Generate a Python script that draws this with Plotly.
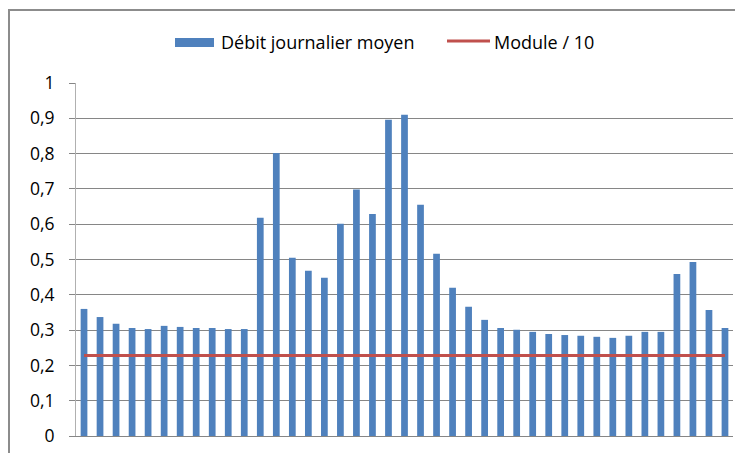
import plotly.graph_objects as go

days = [str(i) for i in range(1, 42)]
debit = [0.360, 0.337, 0.318, 0.306, 0.303, 0.312, 0.309, 0.306, 0.306, 0.303,
         0.303, 0.618, 0.802, 0.505, 0.468, 0.448, 0.601, 0.698, 0.629, 0.896,
         0.910, 0.655, 0.516, 0.420, 0.366, 0.329, 0.306, 0.301, 0.295, 0.289,
         0.286, 0.284, 0.281, 0.278, 0.284, 0.295, 0.295, 0.459, 0.493, 0.357,
         0.306]
module_10 = [0.228] * len(days)

ytick_vals = [0, 0.1, 0.2, 0.3, 0.4, 0.5, 0.6, 0.7, 0.8, 0.9, 1.0]
ytick_text = ["0", "0,1", "0,2", "0,3", "0,4", "0,5", "0,6", "0,7", "0,8", "0,9", "1"]

series_names = ["Débit journalier moyen", "Module / 10"]
bar_color = "#4F81BD"
line_color = "#C0504D"

font_family = "Open Sans, Lato, DejaVu Sans, sans-serif"

# page has an 8px body margin: figure is sized to fit the 743x453 window
W, H = 735, 445
L, R, T, B = 68, 10, 75, 17
pw, ph = W - L - R, H - T - B


def px(x_page):
    return (x_page - 8 - L) / pw


def py(y_page):
    return (H - B - (y_page - 8)) / ph


fig = go.Figure()
fig.add_trace(go.Bar(
    x=days, y=debit, name=series_names[0],
    marker=dict(color=bar_color, line=dict(width=0)),
))
fig.add_trace(go.Scatter(
    x=days, y=module_10, name=series_names[1], mode="lines",
    line=dict(color=line_color, width=3),
))

# legend drawn as layout items (wide swatches like the original)
legend_shapes = [
    dict(type="rect", xref="paper", yref="paper",
         x0=px(175), x1=px(214), y0=py(47), y1=py(38),
         fillcolor=bar_color, line=dict(width=0)),
    dict(type="line", xref="paper", yref="paper",
         x0=px(447), x1=px(490), y0=py(41), y1=py(41),
         line=dict(color=line_color, width=3)),
]
legend_annots = [
    dict(text=series_names[0], xref="paper", yref="paper", x=px(219), y=py(42),
         xanchor="left", yanchor="middle", showarrow=False, font=dict(size=18)),
    dict(text=series_names[1], xref="paper", yref="paper", x=px(492), y=py(42),
         xanchor="left", yanchor="middle", showarrow=False, font=dict(size=18)),
]

border = dict(type="rect", xref="paper", yref="paper",
              x0=px(9), x1=1.2, y0=-0.3, y1=py(10),
              line=dict(color="#8C8C8C", width=2), layer="below")

fig.update_layout(
    width=W, height=H,
    margin=dict(l=L, r=R, t=T, b=B, autoexpand=False),
    paper_bgcolor="white", plot_bgcolor="white",
    bargap=0.58,
    font=dict(family=font_family, size=17, color="#000000"),
    showlegend=False,
    xaxis=dict(type="category", showticklabels=False, ticks="", showgrid=False,
               showline=True, linecolor="#868686", linewidth=1, automargin=False,
               range=[-0.5, len(days) - 0.5], fixedrange=True),
    yaxis=dict(range=[0, 1], tickvals=ytick_vals, ticktext=ytick_text,
               showgrid=True, gridcolor="#868686", gridwidth=1,
               showline=True, linecolor="#B0B0B0", linewidth=1,
               ticks="outside", ticklen=6, tickcolor="#868686",
               ticklabelstandoff=11, zeroline=False, automargin=False,
               tickfont=dict(size=17.5), fixedrange=True),
    shapes=[border] + legend_shapes,
    annotations=legend_annots,
)

fig.write_html("out.html")
